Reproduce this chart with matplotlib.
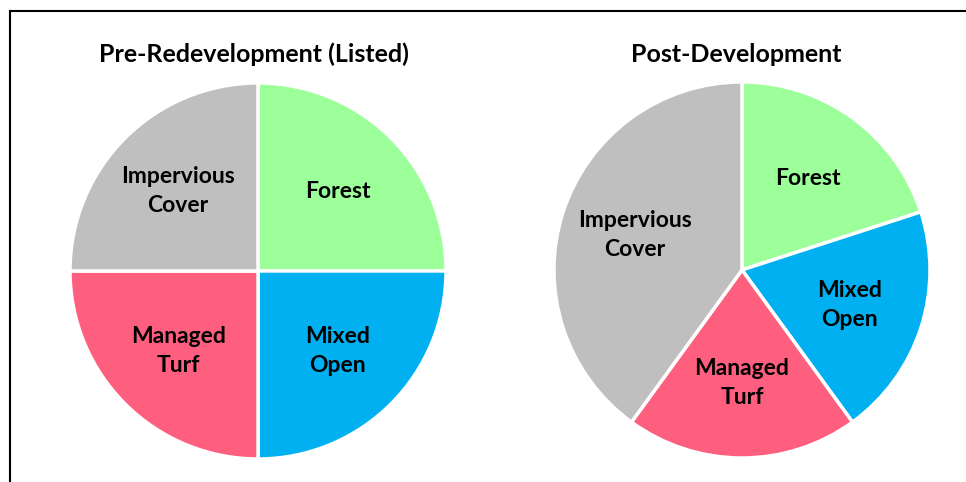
import matplotlib.pyplot as plt
from matplotlib.lines import Line2D

# --- data ---
categories = ['Forest', 'Mixed\nOpen', 'Managed\nTurf', 'Impervious\nCover']
pre_values = [25, 25, 25, 25]
post_values = [20, 20, 20, 40]
titles = ['Pre-Redevelopment (Listed)', 'Post-Development']
colors = ['#9CFF9A', '#00B0F0', '#FF5F7E', '#BFBFBF']

plt.rcParams['font.family'] = ['Lato', 'DejaVu Sans']

fig = plt.figure(figsize=(9.66, 4.82), dpi=100)

# axes placed so each pie has radius ~188 px
ax_boxes = [[0.0705, 0.0438, 0.3932, 0.788], [0.5715, 0.0459, 0.3932, 0.788]]
title_x = [254 / 966, 736 / 966]

for box, vals, title, tx in zip(ax_boxes, [pre_values, post_values], titles, title_x):
    ax = fig.add_axes(box)
    wedges, texts = ax.pie(vals, labels=categories, colors=colors, startangle=90,
                           counterclock=False, labeldistance=0.6, radius=1,
                           wedgeprops=dict(edgecolor='white', linewidth=2.5),
                           textprops=dict(fontsize=16.5, fontweight='bold', ha='center',
                                          va='center', linespacing=1.45))
    ax.set_xlim(-1.01, 1.01)
    ax.set_ylim(-1.01, 1.01)
    fig.text(tx, 1 - 54 / 482, title, ha='center', va='center', fontsize=18, fontweight='bold')

# frame lines (left and top edges only are visible)
fig.add_artist(Line2D([9.5 / 966, 9.5 / 966], [0, 1 - 11 / 482], color='black', lw=1.5,
                      transform=fig.transFigure))
fig.add_artist(Line2D([9.5 / 966, 1], [1 - 11 / 482, 1 - 11 / 482], color='black', lw=1.5,
                      transform=fig.transFigure))

fig.savefig('out.png', dpi=100)
